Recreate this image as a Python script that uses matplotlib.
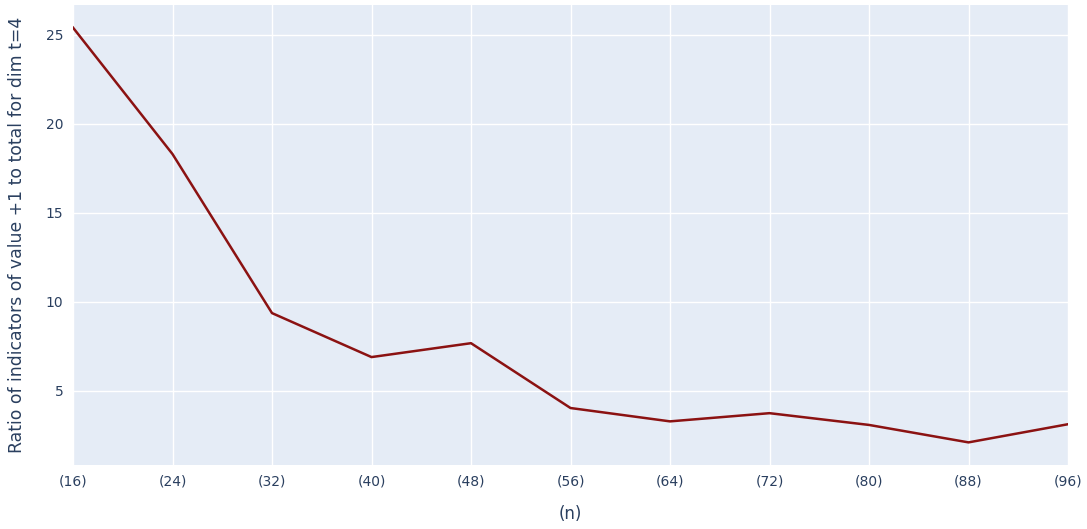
import matplotlib.pyplot as plt

plt.rcParams['font.family'] = ['DejaVu Sans']

# data
n_labels = ['(16)', '(24)', '(32)', '(40)', '(48)', '(56)', '(64)', '(72)', '(80)', '(88)', '(96)']
ratio = [25.39, 18.29, 9.36, 6.89, 7.67, 4.03, 3.28, 3.74, 3.08, 2.10, 3.12]

W, H = 1087, 529
fig = plt.figure(figsize=(W / 100, H / 100), dpi=100)
ax = fig.add_axes([73 / W, 1 - 465 / H, (1068 - 73) / W, (465 - 5) / H])
ax.set_facecolor('#E5ECF6')

x = list(range(len(n_labels)))
ax.plot(x, ratio, color='#8B1212', linewidth=1.8, solid_joinstyle='round')

ax.set_xlim(0, len(n_labels) - 1)
ax.set_ylim(0.83, 26.66)
ax.set_xticks(x)
ax.set_xticklabels(n_labels)
ax.set_yticks([5, 10, 15, 20, 25])

ax.grid(True, color='white', linewidth=1)
ax.set_axisbelow(True)
for s in ax.spines.values():
    s.set_visible(False)

txt = '#2a3f5f'
ax.tick_params(length=0, colors=txt, labelsize=10, pad=7)
ax.set_xlabel('(n)', fontsize=12, color=txt, labelpad=12)
ax.set_ylabel('Ratio of indicators of value +1 to total for dim t=4', fontsize=12.4,
              color=txt, labelpad=14)

fig.savefig('out.png', dpi=100)
